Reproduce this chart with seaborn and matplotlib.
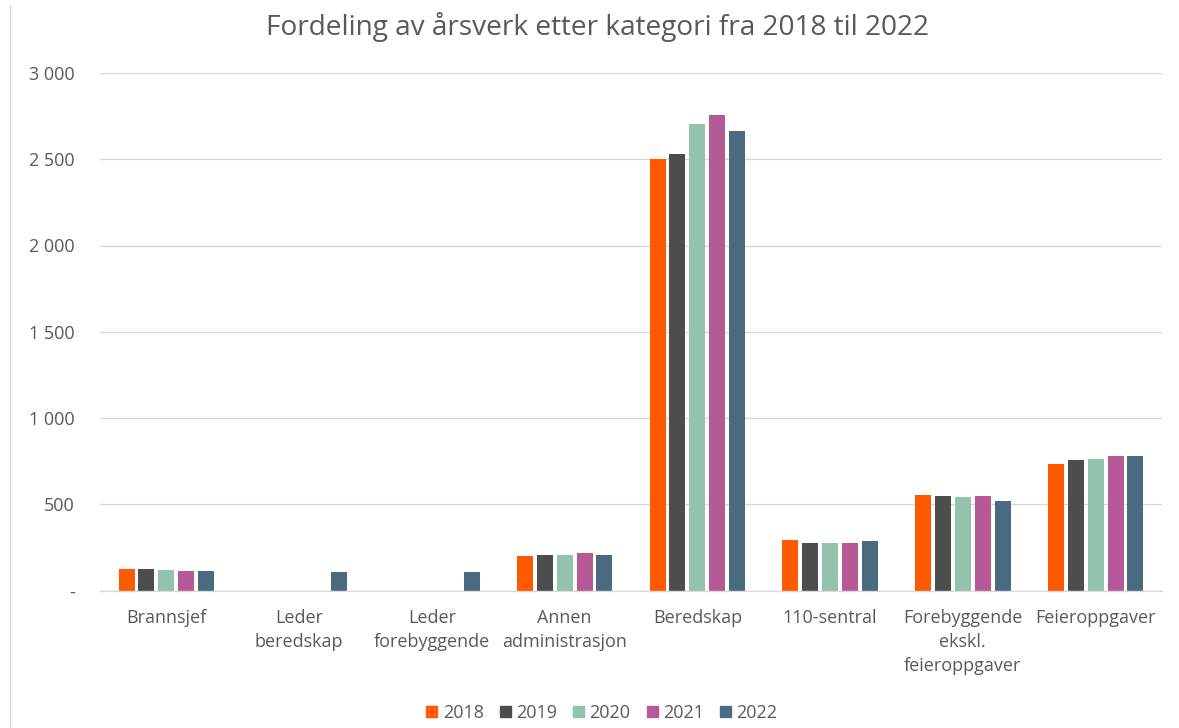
import matplotlib
matplotlib.use("Agg")
import matplotlib.pyplot as plt
import seaborn as sns
import pandas as pd
import numpy as np
from matplotlib.lines import Line2D
from matplotlib.ticker import FuncFormatter

categories = ["Brannsjef", "Leder\nberedskap", "Leder\nforebyggende", "Annen\nadministrasjon",
              "Beredskap", "110-sentral", "Forebyggende\nekskl.\nfeieroppgaver", "Feieroppgaver"]
years = ["2018", "2019", "2020", "2021", "2022"]
v2018 = [125, 0, 0, 201, 2504, 293, 554, 733]
v2019 = [125, 0, 0, 207, 2529, 276, 548, 755]
v2020 = [118, 0, 0, 205, 2703, 278, 540, 762]
v2021 = [115, 0, 0, 218, 2757, 276, 546, 778]
v2022 = [113, 105, 105, 207, 2662, 289, 517, 782]
colors = ["#FF5A00", "#4D4D4D", "#93C2AD", "#B55A96", "#4A6A80"]

series = [v2018, v2019, v2020, v2021, v2022]
rows = []
for y, vals in zip(years, series):
    for c, v in zip(categories, vals):
        rows.append({"kategori": c, "år": y, "verdi": v})
df = pd.DataFrame(rows)

sns.set_theme(style="white")
plt.rcParams['font.family'] = ['Open Sans', 'DejaVu Sans']
txt = "#595959"

fig = plt.figure(figsize=(11.79, 7.28), dpi=100)
ax = fig.add_axes([100/1179, (728-590.5)/728, (1162-100)/1179, (590.5-73)/728])

sns.barplot(data=df, x="kategori", y="verdi", hue="år", palette=colors,
            order=categories, hue_order=years, width=0.75, gap=0.2,
            saturation=1, linewidth=0, ax=ax, legend=True)

ax.set_ylim(0, 3000)
ax.set_xlim(-0.5, len(categories) - 0.5)
ax.set_yticks([0, 500, 1000, 1500, 2000, 2500, 3000])
ax.yaxis.set_major_formatter(FuncFormatter(
    lambda v, p: "-" if v == 0 else f"{int(v):,}".replace(",", " ")))
ax.grid(axis="y", color="#D9D9D9", linewidth=1)
ax.set_axisbelow(True)
for s in ["top", "right", "left"]:
    ax.spines[s].set_visible(False)
ax.spines["bottom"].set_color("#D9D9D9")
ax.spines["bottom"].set_linewidth(1)
ax.set_xlabel("")
ax.set_ylabel("")
ax.tick_params(axis="y", length=0, pad=18, labelsize=13, labelcolor=txt)
ax.tick_params(axis="x", length=0, pad=13, labelsize=13, labelcolor=txt)
for lab in ax.get_xticklabels():
    lab.set_linespacing(1.45)
    lab.set_verticalalignment("top")

handles = [plt.Rectangle((0, 0), 1, 1, color=c) for c in colors]
leg = ax.get_legend()
if leg is not None:
    leg.remove()
fig.legend(handles, years, loc="center", bbox_to_anchor=(602/1179, 1 - 713/728),
           ncol=5, frameon=False, fontsize=13, labelcolor=txt,
           handlelength=0.6, handleheight=0.6, handletextpad=0.3, columnspacing=0.9)

fig.text(597/1179, 1 - 27/728, "Fordeling av årsverk etter kategori fra 2018 til 2022",
         ha="center", va="center", fontsize=20.2, color=txt)

fig.add_artist(Line2D([10/1179, 10/1179], [0, 1 - 5/728], color="#D9D9D9", linewidth=1,
                      transform=fig.transFigure))

fig.savefig("out.png", dpi=100, facecolor="white")
